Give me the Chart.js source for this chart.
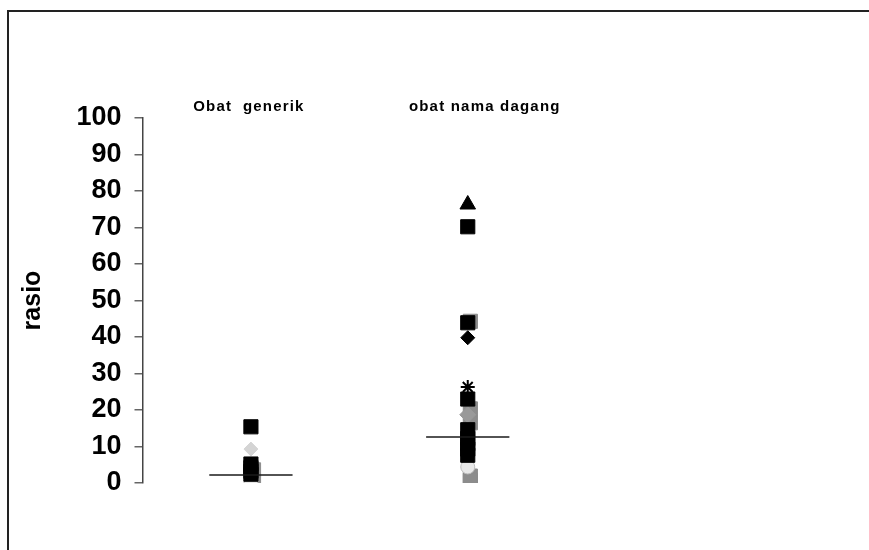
<!DOCTYPE html>
<html><head><meta charset="utf-8">
<script src="https://cdn.jsdelivr.net/npm/chart.js@4.4.1/dist/chart.umd.min.js"></script>
<style>
html,body{margin:0;padding:0;background:#fff;overflow:hidden}
#wrap{position:relative;width:869px;height:550px}
#frame{position:absolute;left:7px;top:10px;right:0;bottom:-10px;border-left:2px solid #222;border-top:2px solid #222;pointer-events:none}
canvas{position:absolute;left:0;top:0}
</style></head><body>
<div id="wrap"><canvas id="c" width="869" height="550"></canvas><div id="frame"></div></div>
<script>
// ---- data ----
const categories = ['Obat  generik', 'obat nama dagang'];
const yTickValues = [0, 10, 20, 30, 40, 50, 60, 70, 80, 90, 100];
const yTitle = 'rasio';
const medians = [2.2, 12.6];

// values per marker type: [generik values], [dagang values]
const blackSquareGenerik = [15.4, 5.2, 4.2, 3.2, 2.4];
const blackSquareDagang  = [70.2, 43.9, 23.0, 14.6, 12.2, 10.8, 9.3, 7.6];
const blackTriangleDagang = [76.3];
const blackDiamondDagang  = [39.8];
const starDagang          = [26.3];
const grayDiamondDagang   = [18.7];
const graySquareGenerik   = [3.6, 0.6];
const graySquareDagang    = [44.3, 20.3, 16.5, 1.9, 0.7];
const lightDiamondGenerik = [9.3];
const lightCircleGenerik  = [0.4];
const lightCircleDagang   = [4.4];

function pts(gen, dag) {
  const out = [];
  (gen || []).forEach(v => out.push({x: 1, y: v}));
  (dag || []).forEach(v => out.push({x: 2, y: v}));
  return out;
}

const markerDatasets = [
  {data: pts(graySquareGenerik, graySquareDagang).map(p => ({x: p.x + 0.012, y: p.y})), pointStyle: 'rect', pointRadius: 10, backgroundColor: '#8c8c8c', borderColor: '#8c8c8c', order: 9},
  {data: pts(lightCircleGenerik, lightCircleDagang), pointStyle: 'circle', pointRadius: 7, backgroundColor: '#e8e8e8', borderColor: '#bdbdbd', order: 8},
  {data: pts(lightDiamondGenerik, null), pointStyle: 'rectRot', pointRadius: 7, backgroundColor: '#d4d4d4', borderColor: '#d4d4d4', order: 7},
  {data: pts(null, grayDiamondDagang), pointStyle: 'rectRot', pointRadius: 8, backgroundColor: '#999999', borderColor: '#999999', order: 6},
  {data: pts(blackSquareGenerik, blackSquareDagang), pointStyle: 'rect', pointRadius: 10, backgroundColor: '#000', borderColor: '#000', order: 5},
  {data: pts(null, blackTriangleDagang), pointStyle: 'triangle', pointRadius: 9, backgroundColor: '#000', borderColor: '#000', order: 4},
  {data: pts(null, blackDiamondDagang), pointStyle: 'rectRot', pointRadius: 7, backgroundColor: '#000', borderColor: '#000', order: 3},
  {data: pts(null, starDagang), pointStyle: 'star', pointRadius: 7, backgroundColor: '#000', borderColor: '#000', borderWidth: 2, order: 2}
].map(d => Object.assign({type: 'scatter', borderWidth: 1, pointHoverRadius: d.pointRadius}, d));

const medianDatasets = medians.map((m, i) => ({
  type: 'scatter', showLine: true, pointRadius: 0, borderColor: '#1a1a1a', borderWidth: 1.6,
  data: [{x: i + 1 - 0.192, y: m}, {x: i + 1 + 0.192, y: m}], order: 1
}));

const labelShift = [-2, 17];
const catLabels = {
  id: 'catLabels',
  afterDraw(chart) {
    const ctx = chart.ctx, xs = chart.scales.x;
    ctx.save();
    ctx.font = 'bold 15px "Liberation Sans", Arial, sans-serif';
    ctx.letterSpacing = '1.2px';
    ctx.fillStyle = '#000';
    ctx.textAlign = 'center';
    ctx.textBaseline = 'middle';
    categories.forEach((c, i) => {
      ctx.fillText(c, xs.getPixelForValue(i + 1) + labelShift[i], chart.chartArea.top - 11);
    });
    ctx.restore();
  }
};

new Chart(document.getElementById('c'), {
  data: {datasets: markerDatasets.concat(medianDatasets)},
  options: {
    responsive: false, animation: false, devicePixelRatio: 1,
    layout: {padding: {left: 8, right: 76, top: 118, bottom: 67}},
    plugins: {legend: {display: false}, tooltip: {enabled: false}},
    scales: {
      x: {type: 'linear', min: 0.5, max: 3.5, display: false},
      y: {
        type: 'linear', min: 0, max: 100,
        afterBuildTicks: s => { s.ticks = yTickValues.map(v => ({value: v})); },
        afterFit: s => { s.width = 134.5; },
        title: {display: true, text: yTitle, color: '#000', font: {family: '"Liberation Sans", Arial, sans-serif', size: 25, weight: 'bold'}, padding: {top: 10, bottom: 0}},
        ticks: {color: '#000', padding: 13, font: {family: '"Liberation Sans", Arial, sans-serif', size: 27, weight: 'bold'}},
        grid: {drawOnChartArea: false, drawTicks: true, tickLength: 8, tickColor: '#666', lineWidth: 1.5},
        border: {display: true, color: '#444', width: 1.5}
      }
    }
  },
  plugins: [catLabels]
});
</script>
</body></html>
